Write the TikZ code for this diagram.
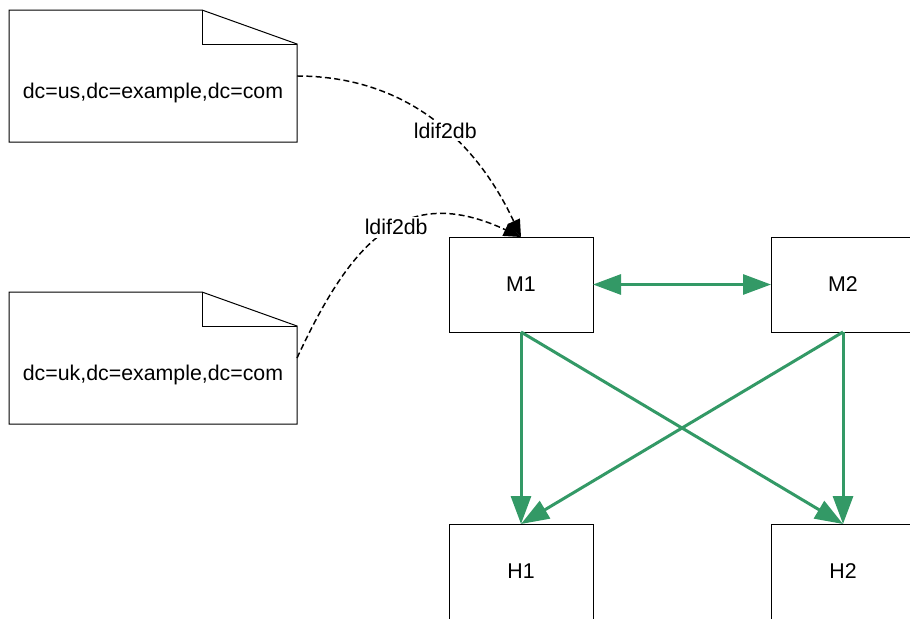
\documentclass[tikz,border=0pt]{standalone}
\usepackage{fontspec}
\setmainfont{Liberation Sans}
\usepackage{xcolor}
\usetikzlibrary{arrows.meta, calc}
\definecolor{replgreen}{RGB}{51,153,102}

% dog-eared outline round an empty document node
\newcommand{\docoutline}[1]{%
  \draw[line width=0.75pt] (#1.north west) -- ([xshift=-71.25pt]#1.north east)
    -- ([yshift=-25.5pt]#1.north east) -- (#1.south east) -- (#1.south west) -- cycle;
  \draw[line width=0.75pt] ([xshift=-71.25pt]#1.north east)
    -- ([xshift=-71.25pt,yshift=-25.5pt]#1.north east) -- ([yshift=-25.5pt]#1.north east);
}

\begin{document}
\begin{tikzpicture}[x=0.75pt, y=0.75pt, font=\fontsize{16}{19}\selectfont,
    server/.style={draw, line width=0.75pt, rectangle, minimum width=108pt, minimum height=71.25pt, outer sep=0pt},
    ldif/.style={rectangle, minimum width=216pt, minimum height=99pt, outer sep=0pt},
    import/.style={line width=1.1pt, dash pattern=on 4.5pt off 2.5pt, -{Triangle[length=13pt, width=10pt]}},
    repl/.style={line width=2.25pt, replgreen, -{Triangle[length=21pt, width=15pt]}}]

    \useasboundingbox (0,0) rectangle (910,-618);
    \clip (0,0) rectangle (910,-618);

    % --- LDIF FILES ---
    \node[ldif] (us) at (153,-76) {};
    \docoutline{us}
    \node (ustext) at ($(us.center)+(0,-17)$) {dc=us,dc=example,dc=com};

    \node[ldif] (uk) at (153,-358) {};
    \docoutline{uk}
    \node (uktext) at ($(uk.center)+(0,-17)$) {dc=uk,dc=example,dc=com};

    % --- MASTERS ---
    \node[server] (m1) at (521,-284.5) {M1};
    \node[server] (m2) at (843,-284.5) {M2};

    % --- HUBS ---
    \node[server] (h1) at (521,-571.5) {H1};
    \node[server] (h2) at (843,-571.5) {H2};

    % ldif2db imports into M1
    \draw[import] (us.east) to[out=0, in=115]
        node[pos=0.56, fill=white, inner sep=2pt] (imp1) {ldif2db} (m1.north);
    \draw[import] (uk.east) to[out=65, in=155, looseness=1.3]
        node[pos=0.55, fill=white, inner sep=2pt] (imp2) {ldif2db} (m1.north);

    % Replication between masters
    \draw[repl, {Triangle[length=21pt, width=15pt]}-{Triangle[length=21pt, width=15pt]}] (m1.east) -- (m2.west);

    % Replication down to hubs
    \draw[repl] (m1.south) -- (h1.north);
    \draw[repl] (m1.south) -- (h2.north);
    \draw[repl] (m2.south) -- (h1.north);
    \draw[repl] (m2.south) -- (h2.north);

\end{tikzpicture}
\end{document}
